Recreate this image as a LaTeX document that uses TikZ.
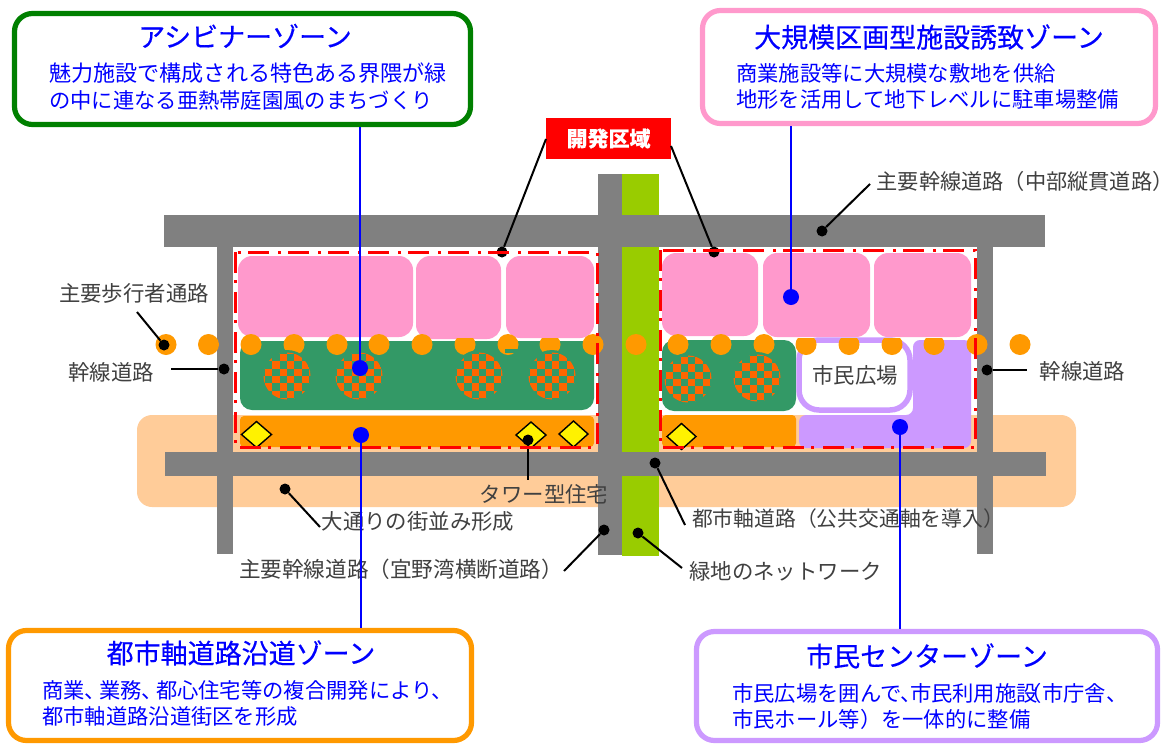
\documentclass[tikz,border=0pt]{standalone}
\usepackage{fontspec}
\setmainfont{Noto Sans CJK JP}
\newfontfamily\titlefont[FakeBold=0.35]{Noto Sans CJK JP}
\definecolor{peach}{HTML}{FFCC99}
\definecolor{road}{HTML}{808080}
\definecolor{lime}{HTML}{99CC00}
\definecolor{pinkz}{HTML}{FF99CC}
\definecolor{greenz}{HTML}{339966}
\definecolor{orangez}{HTML}{FF9900}
\definecolor{purplez}{HTML}{CC99FF}
\definecolor{checkz}{HTML}{FF6600}
\definecolor{labelz}{HTML}{404040}
\definecolor{bluez}{HTML}{0000FF}
\tikzset{
  block/.style={rounded corners=#1,line width=0pt},
  redline/.style={draw=red,line width=3pt,dash pattern=on 21pt off 7pt on 3pt off 9pt},
  zonebox/.style={draw=#1,fill=white,line width=5.2pt,rounded corners=18pt,inner sep=0pt},
  ztitle/.style={text=bluez,font=\titlefont\fontsize{27}{30}\selectfont,inner sep=0pt},
  zbody/.style={text=bluez,font=\fontsize{21.3}{24}\selectfont,inner sep=0pt,anchor=west},
  maplabel/.style={text=labelz,font=\fontsize{21.4}{24}\selectfont,inner sep=0pt},
  pin/.style={circle,fill=black,inner sep=0pt,minimum size=11pt},
  bluepin/.style={circle,fill=bluez,inner sep=0pt,minimum size=16pt},
  leader/.style={draw=black,line width=2pt},
  blueline/.style={draw=bluez,line width=2.7pt},
  gem/.style={draw=black,fill=yellow,line width=1.4pt,line join=miter}
}
\newcommand{\chkcircle}[2]{%
  \fill[greenz] (#1,#2) circle (26);
  \begin{scope}
    \clip (#1,#2) circle (23.5);
    \foreach \i in {-4,...,3}{\foreach \j in {-4,...,3}{%
      \pgfmathtruncatemacro{\parity}{mod(\i+\j+8,2)}%
      \ifnum\parity=0
        \fill[checkz] ({#1+\i*7.4},{#2+\j*7.4}) rectangle ++(7.4,7.4);
      \fi}}
  \end{scope}}
\newcommand{\gemat}[3]{\draw[gem] ({#1-#3},#2) -- (#1,{#2-13}) -- ({#1+#3},#2) -- (#1,{#2+13}) -- cycle;}
\begin{document}
\begin{tikzpicture}[x=1pt,y=-1pt]
\useasboundingbox (0,0) rectangle (1174,744);
% ground
\fill[white] (0,0) rectangle (1174,744);
\fill[peach,rounded corners=15pt] (137,415) rectangle (1076,507);
\fill[white] (233,247) rectangle (598,415);
\fill[white] (659,247) rectangle (977,415);
% green strip and roads
\fill[lime] (622,174) rectangle (659,556);
\fill[road] (164,215) rectangle (1045,247);
\fill[road] (165,452) rectangle (1046,476);
\fill[road] (217,247) rectangle (233,554);
\fill[road] (977,247) rectangle (993,554);
\fill[road] (598,174) rectangle (622,555);
% pink blocks
\fill[pinkz,block=14pt] (238,256) rectangle (413,337);
\fill[pinkz,block=14pt] (416,256) rectangle (501,339);
\fill[pinkz,block=14pt] (506,256) rectangle (594,338);
\fill[pinkz,block=14pt] (662,253) rectangle (758,336);
\fill[pinkz,block=14pt] (763,253) rectangle (870,337);
\fill[pinkz,block=14pt] (874,253) rectangle (971,337);
% green, orange and purple blocks
\fill[greenz,block=12pt] (240,341) rectangle (594,410);
\fill[greenz,block=12pt] (662,340) rectangle (796,411);
\fill[orangez,block=4pt] (240,416) rectangle (594,447);
\fill[orangez,block=4pt] (662,415) rectangle (796,447);
\fill[purplez,rounded corners=7pt] (799,448) -- (799,415) -- (913,415) -- (913,340) -- (971,340) -- (971,448) -- cycle;
% plaza
\node[draw=purplez,fill=white,line width=5.5pt,rounded corners=20pt,minimum width=111pt,minimum height=70pt,inner sep=0pt] (plaza) at (854.5,375) {};
% walkway dots
\foreach \x in {166,208.5,251,294,337,379,422,508,593,636,678,721,764,977,1020}{\fill[orangez] (\x,344.5) circle (10.5);}
\begin{scope}
  \clip (440,338) rectangle (960,360);
  \foreach \x in {465,550,806,849,892,934}{\fill[orangez] (\x,344.5) circle (10.5);}
\end{scope}
\fill[greenz] (505,349) rectangle (518,353);
% square-patterned circles
\chkcircle{287}{376}
\chkcircle{359}{376}
\chkcircle{479}{376}
\chkcircle{552}{376}
\chkcircle{688}{379}
\chkcircle{757}{378}
\node[text=labelz,font=\fontsize{21.4}{24}\selectfont,inner sep=0pt] (plazatext) at (855,375) {市民広場};
% towers
\gemat{256.5}{434.5}{15}
\gemat{531}{435}{15}
\gemat{573.5}{434}{14.5}
\gemat{681.5}{436.5}{14.5}
% labels
\node[draw=none,fill=red,minimum width=125pt,minimum height=41pt,inner sep=0pt,text=white,font=\titlefont\fontsize{21}{24}\selectfont\bfseries] (dev) at (608.5,138.5) {開発区域};
\node[maplabel,font=\fontsize{21.2}{24}\selectfont] (lroadtop) at (1025,181) {主要幹線道路（中部縦貫道路）};
\node[maplabel] (lwalk) at (134,293) {主要歩行者通路};
\node[maplabel] (lartw) at (111,372) {幹線道路};
\node[maplabel] (larte) at (1082.5,371) {幹線道路};
\node[maplabel] (ltower) at (544,494) {タワー型住宅};
\node[maplabel] (lstreet) at (418,521) {大通りの街並み形成};
\node[maplabel,font=\fontsize{20.8}{24}\selectfont] (laxis) at (848,519) {都市軸道路（公共交通軸を導入）};
\node[maplabel,font=\fontsize{21.6}{24}\selectfont] (lroadlow) at (401,569) {主要幹線道路（宜野湾横断道路）};
\node[maplabel] (lgreen) at (785.5,571) {緑地のネットワーク};
% pins
\node[pin] (p1) at (502,252) {};
\node[pin] (p2) at (714,252) {};
\node[pin] (p3) at (822,231) {};
\node[pin] (p4) at (164,345) {};
\node[pin] (p5) at (224,369) {};
\node[pin] (p6) at (987,370) {};
\node[pin] (p7) at (528,440) {};
\node[pin] (p8) at (285,489) {};
\node[pin] (p9) at (655,463) {};
\node[pin] (p10) at (604,530) {};
\node[pin] (p11) at (638,533) {};
\coordinate (e1) at (546,139);
\coordinate (e2) at (671,146);
\coordinate (e3) at (870,184);
\coordinate (e4) at (137,312);
\coordinate (e5) at (171,369);
\coordinate (e6) at (1027,370);
\coordinate (e7) at (528,480);
\coordinate (e8) at (320,527);
\coordinate (e9) at (685,525);
\coordinate (e10) at (564,571);
\coordinate (e11) at (682,568);
\draw[leader] (p1) -- (e1);
\draw[leader] (p2) -- (e2);
\draw[leader] (p3) -- (e3);
\draw[leader] (p4) -- (e4);
\draw[leader] (p5) -- (e5);
\draw[leader] (p6) -- (e6);
\draw[leader] (p7) -- (e7);
\draw[leader] (p8) -- (e8);
\draw[leader] (p9) -- (e9);
\draw[leader] (p10) -- (e10);
\draw[leader] (p11) -- (e11);
% development limits
\draw[redline] (235,252) rectangle (597,447);
\draw[redline] (660,250) rectangle (975,447);
% zone boxes
\node[zonebox=green!50!black,minimum width=456pt,minimum height=111pt] (zg) at (242.5,69) {};
\node[zonebox=pinkz,minimum width=453pt,minimum height=113pt] (zp) at (929,67) {};
\node[zonebox=orangez,minimum width=463pt,minimum height=110pt] (zo) at (240,685.5) {};
\node[zonebox=purplez,minimum width=461pt,minimum height=109pt] (zl) at (927,686) {};
\node[ztitle] (tg) at (245,36) {アシビナーゾーン};
\node[ztitle] (tp) at (929,37) {大規模区画型施設誘致ゾーン};
\node[ztitle] (to) at (241,653) {都市軸道路沿道ゾーン};
\node[ztitle] (tl) at (927,656) {市民センターゾーン};
\node[zbody,font=\fontsize{22.1}{24}\selectfont] (bg1) at (49,73) {魅力施設で構成される特色ある界隈が緑};
\node[zbody] (bg2) at (49,100) {の中に連なる亜熱帯庭園風のまちづくり};
\node[zbody] (bp1) at (736,73) {商業施設等に大規模な敷地を供給};
\node[zbody] (bp2) at (736,99) {地形を活用して地下レベルに駐車場整備};
\node[zbody] (bo1) at (42,690) {商業、\kern-7pt 業務、\kern-7pt 都心住宅等の複合開発により、};
\node[zbody] (bo2) at (42,716) {都市軸道路沿道街区を形成};
\node[zbody] (bl1) at (732,693) {市民広場を囲んで、\kern-12pt 市民利用施設\kern-17pt（市庁舎、};
\node[zbody] (bl2) at (732,719) {市民ホール等）を一体的に整備};
% blue connectors
\node[bluepin] (b1) at (360,368) {};
\node[bluepin] (b2) at (361,435) {};
\node[bluepin] (b3) at (791,297) {};
\node[bluepin] (b4) at (900,427) {};
\draw[blueline] (b1) -- (b1 |- zg.south);
\draw[blueline] (b2) -- (b2 |- zo.north);
\draw[blueline] (b3) -- (b3 |- zp.south);
\draw[blueline] (b4) -- (b4 |- zl.north);
\end{tikzpicture}
\end{document}
